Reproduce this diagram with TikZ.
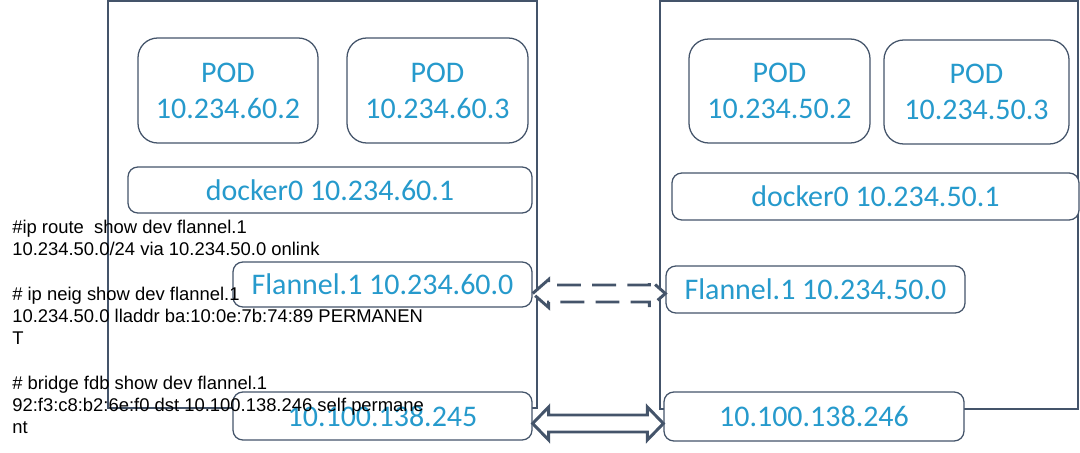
\documentclass[tikz,border=0pt]{standalone}
\usepackage{fontspec}
\setmainfont{Liberation Sans}
\newfontfamily\calfont{Carlito}
\usetikzlibrary{calc}
\definecolor{ipblue}{RGB}{38,154,204}
\definecolor{slate}{RGB}{68,84,106}
\def\px{0.025cm}
% block arrow with two heads: from node, to node, yshift, head half width, style
\newcommand{\linkarrow}[5]{
  \coordinate (#1tip) at ($(#1.east)+(0,#3)$);
  \coordinate (#2tip) at (#2.west |- #1tip);
  \draw[#5] (#1tip) -- ++(16,-#4) -- ++(0,#4-8.5) -- ($(#2tip)+(-16,-8.5)$)
    -- ++(0,8.5-#4) -- (#2tip) -- ++(-16,#4) -- ++(0,8.5-#4)
    -- ($(#1tip)+(16,8.5)$) -- ++(0,#4-8.5) -- cycle;
}
\tikzset{
  host/.style 2 args={draw=slate,line width=0.9pt,minimum width=#1*\px,minimum height=#2*\px,inner sep=0},
  ipbox/.style 2 args={draw=slate,line width=0.9pt,fill=white,rounded corners=7pt,
    minimum width=#1*\px,minimum height=#2*\px,inner sep=0,text=ipblue,
    font=\calfont\fontsize{21.3}{25.6}\selectfont,align=center},
  podbox/.style 2 args={ipbox={#1}{#2},rounded corners=14pt},
  cmd/.style={anchor=base west,inner sep=0,font=\fontsize{13.1}{16}\selectfont},
  link/.style={draw=slate,line width=2.1pt,fill=white,line join=miter}
}
\begin{document}
\begin{tikzpicture}[x=0.025cm,y=-0.025cm]
\useasboundingbox (0,0) rectangle (1080,453);
% hosts
\node[host={429}{407}] (host60) at (322.5,204.5) {};
\node[host={418}{408}] (host50) at (869,205) {};
% left host
\node[podbox={180}{105}] (pod602) at (228,90.5) {POD\\10.234.60.2};
\node[podbox={181}{105}] (pod603) at (437.5,90.5) {POD\\10.234.60.3};
\node[ipbox={404}{46}] (docker60) at (330,190) {docker0 10.234.60.1};
\node[ipbox={299}{45}] (flannel60) at (382.5,284.5) {Flannel.1 10.234.60.0};
\node[ipbox={299}{48}] (eth245) at (382.5,416) {10.100.138.245};
% right host
\node[podbox={181}{104}] (pod502) at (779.5,91) {POD\\10.234.50.2};
\node[podbox={185}{104}] (pod503) at (976.5,92) {POD\\10.234.50.3};
\node[ipbox={407}{47}] (docker50) at (875.5,196.5) {docker0 10.234.50.1};
\node[ipbox={299}{47}] (flannel50) at (815.5,289.5) {Flannel.1 10.234.50.0};
\node[ipbox={300}{49}] (eth246) at (814,416.5) {10.100.138.246};
% commands
\node[cmd] (route1) at (12,233) {\#ip route\ \ show dev flannel.1};
\node[cmd] (route2) at (12,255) {10.234.50.0/24 via 10.234.50.0 onlink};
\node[cmd] (neigh1) at (12,300) {\# ip neig show dev flannel.1};
\node[cmd] (neigh2) at (12,322) {10.234.50.0 lladdr ba:10:0e:7b:74:89 PERMANEN};
\node[cmd] (neigh3) at (12,344.5) {T};
\node[cmd] (fdb1) at (12,389) {\# bridge fdb show dev flannel.1};
\node[cmd] (fdb2) at (12,411) {92:f3:c8:b2:6e:f0 dst 10.100.138.246 self permane};
\node[cmd] (fdb3) at (12,433.5) {nt};
% links
\linkarrow{flannel60}{flannel50}{9}{14}{link,dash pattern=on 17pt off 8pt}
\linkarrow{eth245}{eth246}{7.5}{16.5}{link}
\end{tikzpicture}
\end{document}
